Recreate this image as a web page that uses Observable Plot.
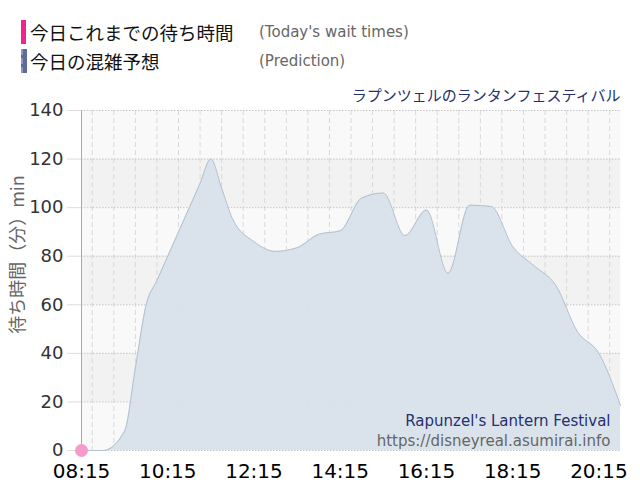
<!DOCTYPE html>
<html>
<head>
<meta charset="utf-8">
<script src="https://cdn.jsdelivr.net/npm/d3@7"></script>
<script src="https://cdn.jsdelivr.net/npm/@observablehq/plot@0.6"></script>
<style>
  body { margin: 0; background: #fff; font-family: "DejaVu Sans", "Noto Sans CJK JP", sans-serif; }
  #legend { position: relative; height: 75px; width: 640px; }
  .bar { position: absolute; left: 21px; width: 5px; height: 24px; }
  .jp { position: absolute; left: 30px; font-family: "Noto Sans CJK JP", sans-serif; font-size: 18.5px; color: #111; line-height: 24px; }
  .en { position: absolute; left: 259px; font-family: "DejaVu Sans", sans-serif; font-size: 15px; color: #666; line-height: 24px; }
</style>
</head>
<body>
<div id="legend"></div>
<div id="chart"></div>
<script>
// ---- data ----
const times = ["08:15","08:45","09:15","09:30","09:45","10:00","10:15","10:30","10:45","11:00","11:15","11:30","11:45","12:15","12:45","13:15","13:45","14:15","14:45","15:15","15:45","16:15","16:45","17:15","17:45","18:15","18:45","19:15","19:45","20:15","20:45"];
const predicted = [0,0,8,34,60,70,80,90,100,110,120,108,95.5,86,82,83.5,89,90.5,104,106,88.5,99,73,101,100.5,84,76,68,49,40,18.5];
const todayTimes = ["08:15"];
const todayValues = [0];
const xTickLabels = ["08:15","10:15","12:15","14:15","16:15","18:15","20:15"];
const yTicks = [0,20,40,60,80,100,120,140];
const legendJp = ["今日これまでの待ち時間", "今日の混雑予想"];
const legendEn = ["(Today's wait times)", "(Prediction)"];
const attractionJp = "ラプンツェルのランタンフェスティバル";
const attractionEn = "Rapunzel's Lantern Festival";
const sourceUrl = "https://disneyreal.asumirai.info";
const yLabel = "待ち時間（分）min";

// ---- helpers ----
const T = s => { const [h, m] = s.split(":").map(Number); return new Date(Date.UTC(2020, 0, 1, h, m)); };
const predData = times.map((t, i) => ({t: T(t), v: predicted[i]}));
const todayData = todayTimes.map((t, i) => ({t: T(t), v: todayValues[i]}));
const xStart = T("08:15"), xEnd = T("20:45");
const halfHours = d3.utcMinute.every(30).range(xStart, new Date(+xEnd + 1));
const bands = [];
for (let i = 1; i < yTicks.length - 1; i += 2) bands.push({y1: yTicks[i], y2: yTicks[i + 1]});

// ---- legend ----
const legend = document.getElementById("legend");
const colors = ["#f0248c", "#5c6a9c"];
legendJp.forEach((txt, i) => {
  const top = i === 0 ? 20 : 49;
  const bar = document.createElement("div");
  bar.className = "bar";
  bar.style.top = top + "px";
  bar.style.background = colors[i];
  if (i === 1) { bar.style.width = "4px"; bar.style.borderLeft = "2px dashed #8d97bb"; bar.style.left = "21px"; }
  legend.appendChild(bar);
  const jp = document.createElement("div");
  jp.className = "jp"; jp.style.top = top + "px"; jp.textContent = txt;
  legend.appendChild(jp);
  const en = document.createElement("div");
  en.className = "en"; en.style.top = top + "px"; en.textContent = legendEn[i];
  legend.appendChild(en);
});

// ---- chart ----
const chart = Plot.plot({
  width: 640,
  height: 425,
  marginTop: 35,
  marginBottom: 50,
  marginLeft: 81,
  marginRight: 20,
  style: {fontFamily: "'DejaVu Sans', 'Noto Sans CJK JP', sans-serif", background: "#fff"},
  x: {type: "utc", domain: [xStart, xEnd]},
  y: {domain: [0, 140]},
  marks: [
    Plot.frame({fill: "#f9f9f9", stroke: null}),
    Plot.rect(bands, {y1: "y1", y2: "y2", fill: "#f2f2f2"}),
    Plot.ruleX(halfHours, {stroke: "#d9d9d9", strokeDasharray: "5,3"}),
    Plot.ruleY(yTicks, {stroke: "#c6c6c6", strokeDasharray: "1.5,1.5"}),
    Plot.areaY(predData, {x: "t", y: "v", curve: "monotone-x", fill: "#d8e2eb", fillOpacity: 0.95}),
    Plot.lineY(predData, {x: "t", y: "v", curve: "monotone-x", stroke: "#b3c0cd", strokeWidth: 1}),
    Plot.ruleX([xStart], {stroke: "#a8a8b0"}),
    Plot.axisY({ticks: yTicks, tickSize: 14, tickPadding: 4, stroke: "#dddddd", fill: "#333", fontSize: 18, label: null}),
    Plot.axisX({ticks: xTickLabels.map(T), tickFormat: d3.utcFormat("%H:%M"), tickSize: 0, tickPadding: 13, fill: "#000", fontSize: 20, label: null}),
    Plot.dot(todayData, {x: "t", y: "v", r: 6.5, fill: "#f59acb", stroke: null}),
    Plot.text([attractionJp], {frameAnchor: "top-right", lineAnchor: "bottom", dy: -10, fill: "#26306e", fontSize: 15, fontFamily: "Noto Sans CJK JP"}),
    Plot.text([attractionEn], {frameAnchor: "bottom-right", lineAnchor: "bottom", dx: -10, dy: -25, fill: "#26306e", fontSize: 15}),
    Plot.text([sourceUrl], {frameAnchor: "bottom-right", lineAnchor: "bottom", dx: -10, dy: -5, fill: "#666", fontSize: 15}),
    Plot.text([yLabel], {frameAnchor: "left", textAnchor: "middle", rotate: -90, dx: -63, dy: -26, fill: "#666", fontSize: 18, fontFamily: "Noto Sans CJK JP"})
  ]
});
document.getElementById("chart").appendChild(chart);
</script>
</body>
</html>
